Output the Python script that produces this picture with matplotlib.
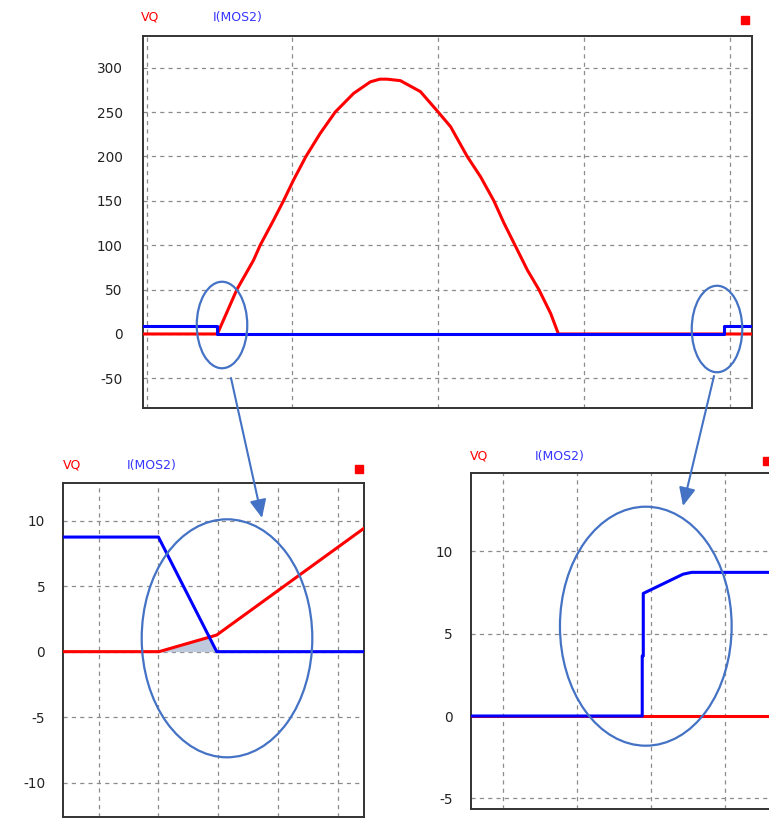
import numpy as np
import matplotlib
matplotlib.use("Agg")
import matplotlib.pyplot as plt
from matplotlib.patches import Ellipse, FancyArrowPatch, Rectangle

plt.rcParams['font.family'] = ['DejaVu Sans']
plt.rcParams['lines.scale_dashes'] = False

# ---------------- data ----------------
series_names = ["VQ", "I(MOS2)"]

# top chart
top_vq_x = [-0.03, 0.485, 0.619, 0.733, 0.779, 0.870, 0.939, 1.008, 1.093, 1.191, 1.294,
            1.42, 1.535, 1.60, 1.649, 1.741, 1.878, 2.0, 2.085, 2.199, 2.291, 2.382,
            2.451, 2.527, 2.612, 2.691, 2.772, 2.825, 4.16]
top_vq_y = [0, 0, 50, 83, 100, 128, 150, 173.5, 200, 226, 250,
            271, 284, 287, 287, 285.3, 273, 250, 233.5, 200, 177, 150,
            125, 100, 72, 50, 23, 0, 0]
top_i_x = [-0.03, 0.48, 0.48, 3.96, 3.96, 4.16]
top_i_y = [8.75, 8.75, 0, 0, 8.75, 8.75]
top_yticks = [-50, 0, 50, 100, 150, 200, 250, 300]

# bottom-left zoom (turn-off)
bl_vq_x = [-0.6, 1.01, 1.975, 4.44]
bl_vq_y = [0, 0, 1.27, 9.42]
bl_i_x = [-0.6, 1.0, 1.975, 4.45]
bl_i_y = [8.75, 8.75, 0, 0]
bl_yticks = [-10, -5, 0, 5, 10]

# bottom-right zoom (turn-on)
br_vq_x = [-0.45, 3.65]
br_vq_y = [0, 0]
br_i_x = [-0.45, 1.878, 1.878, 1.892, 1.892, 2.43, 2.546, 3.65]
br_i_y = [0, 0, 3.65, 3.65, 7.45, 8.62, 8.73, 8.73]
br_yticks = [-5, 0, 5, 10]

# ---------------- style ----------------
W, H = 769, 822
RED = '#ff0000'
BLUE = '#0000ff'
OUTLINE = '#4472c4'
GRID = '#8c8c8c'
FS = 9.8

fig = plt.figure(figsize=(W / 100, H / 100), dpi=100)


def fx(x):
    return x / W


def fy(y):
    return 1 - y / H


def make_ax(left, top, right, bottom, xlim, ylim, yticks, nx, pad):
    ax = fig.add_axes([fx(left), fy(bottom), (right - left) / W, (bottom - top) / H])
    ax.set_xlim(*xlim)
    ax.set_ylim(*ylim)
    ax.set_xticks(list(range(nx)))
    ax.set_xticklabels([])
    ax.set_yticks(yticks)
    ax.set_yticklabels([str(t) for t in yticks], fontsize=FS, color='#222222')
    ax.tick_params(length=0, pad=pad)
    ax.grid(True, color=GRID, linestyle=(0, (3, 3)), linewidth=0.9)
    for s in ax.spines.values():
        s.set_color('#333333')
        s.set_linewidth(1.4)
    return ax


def labels(x0, x1, y, sqx, sqy):
    fig.text(fx(x0), fy(y), series_names[0], color=RED, fontsize=9, va='center', ha='left')
    fig.text(fx(x1), fy(y), series_names[1], color='#3535ff', fontsize=9, va='center', ha='left')
    fig.patches.append(Rectangle((fx(sqx - 4), fy(sqy + 4)), 8 / W, 8 / H,
                                 transform=fig.transFigure, color=RED, zorder=5))


# top chart
ax1 = make_ax(142.7, 36, 752, 408.3, (-0.027, 4.153), (-83.7, 335.6), top_yticks, 5, 14.5)
ax1.plot(top_vq_x, top_vq_y, color=RED, lw=2.2, zorder=3)
ax1.plot(top_i_x, top_i_y, color=BLUE, lw=2.2, zorder=4)
labels(141, 213, 17, 745, 20)

# bottom-left
ax2 = make_ax(63.3, 482.7, 364, 816.7, (-0.592, 4.44), (-12.6, 12.9), bl_yticks, 5, 13)
xs = np.linspace(bl_vq_x[1], bl_vq_x[2], 200)
lower = np.minimum(np.interp(xs, bl_vq_x, bl_vq_y), np.interp(xs, bl_i_x, bl_i_y))
ax2.fill_between(xs, 0, lower, color='#bfc9dc', lw=0, zorder=2)
ax2.plot(bl_vq_x, bl_vq_y, color=RED, lw=2.2, zorder=3)
ax2.plot(bl_i_x, bl_i_y, color=BLUE, lw=2.2, zorder=4)
labels(63, 126.7, 465, 359, 469)

# bottom-right
ax3 = make_ax(470.7, 473.3, 773, 809.3, (-0.44, 3.645), (-5.67, 14.75), br_yticks, 4, 13)
ax3.plot(br_vq_x, br_vq_y, color=RED, lw=2.2, zorder=3)
ax3.plot(br_i_x, br_i_y, color=BLUE, lw=2.2, zorder=4)
labels(470, 535, 456, 767, 461)

# annotation ellipses
for cx, cy, w, h in [(222, 325, 50.5, 86.5), (717, 329, 50.5, 86.5),
                     (227, 638.3, 170.6, 238), (645.8, 626.2, 171.7, 239)]:
    fig.patches.append(Ellipse((fx(cx), fy(cy)), w / W, h / H, transform=fig.transFigure,
                               fill=False, edgecolor=OUTLINE, lw=1.6, zorder=6))

# arrows
for (x0, y0), (x1, y1) in [((231, 378), (262, 518)), ((714, 376), (683, 506))]:
    fig.patches.append(FancyArrowPatch((fx(x0), fy(y0)), (fx(x1), fy(y1)),
                                       transform=fig.transFigure,
                                       arrowstyle='-|>,head_length=1.1,head_width=0.5',
                                       mutation_scale=10, color=OUTLINE, lw=1.5,
                                       shrinkA=0, shrinkB=0, zorder=6))

fig.savefig('out.png', dpi=100)
